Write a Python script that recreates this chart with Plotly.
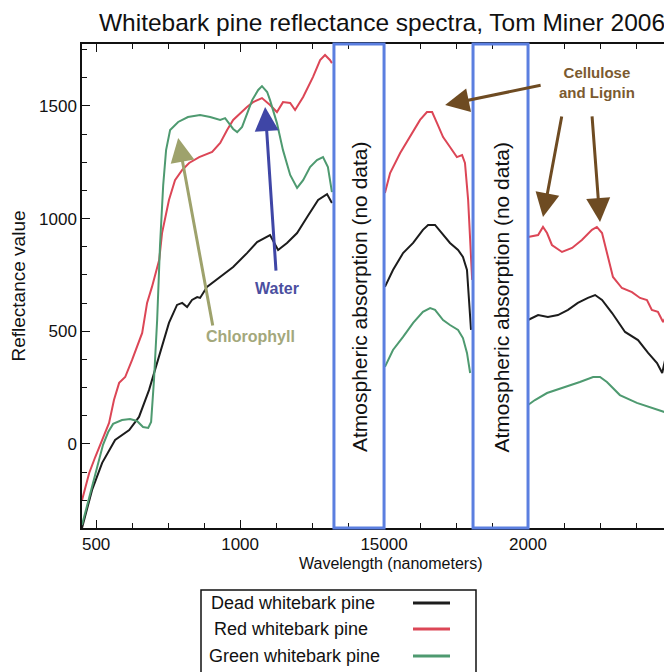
import plotly.graph_objects as go

# ---------------- data ----------------
wl_dead = [451, 486, 521, 566, 615, 649, 684, 719, 753, 781, 799, 816, 833, 851, 861, 885, 931, 976, 1024, 1059,
           1104, 1132, 1163, 1198, 1233, 1271, 1302, 1319, None,
           1503, 1531, 1566, 1601, 1635, 1653, 1677, 1701, 1729, 1757, 1774, 1788, 1795, 1802, None,
           2000, 2035, 2069, 2104, 2139, 2173, 2208, 2233, 2257, 2292, 2337, 2382, 2417, 2448, 2466, 2476, 2486, 2500]
dead = [-373, -204, -84, 18, 62, 120, 240, 386, 537, 617, 626, 608, 639, 652, 648, 697, 741, 785, 847, 896,
        927, 861, 892, 936, 1007, 1083, 1109, 1069, None,
        697, 772, 847, 892, 950, 972, 972, 936, 892, 861, 830, 772, 639, 506, None,
        550, 572, 564, 572, 595, 626, 648, 661, 639, 581, 497, 461, 404, 359, 315, 373, 319, 337]

wl_red = [451, 476, 497, 521, 545, 562, 580, 601, 625, 660, 677, 694, 719, 729, 753, 774, 799, 823, 858, 903,
          931, 955, 976, 1024, 1045, 1076, 1104, 1128, 1149, 1174, 1191, 1219, 1253, 1278, 1295, 1312, 1319, None,
          1503, 1521, 1556, 1590, 1625, 1649, 1667, 1684, 1705, 1729, 1753, 1771, 1781, 1792, 1799, 1806, None,
          2000, 2035, 2052, 2066, 2083, 2118, 2153, 2187, 2222, 2239, 2257, 2274, 2295, 2326, 2361, 2389, 2413,
          2430, 2451, 2469, 2486, 2500]
red = [-250, -129, -58, 18, 93, 195, 271, 297, 373, 493, 626, 697, 816, 936, 1083, 1171, 1216, 1247, 1273, 1296,
       1336, 1393, 1438, 1495, 1517, 1535, 1504, 1473, 1517, 1513, 1482, 1540, 1628, 1704, 1726, 1704, 1690, None,
       1114, 1202, 1291, 1362, 1438, 1473, 1473, 1424, 1362, 1318, 1273, 1282, 1247, 1083, 927, 728, None,
       918, 927, 963, 936, 883, 852, 870, 905, 950, 963, 936, 847, 741, 692, 674, 648, 639,
       595, 586, 541, 581, 559]

wl_green = [451, 490, 524, 542, 559, 590, 618, 642, 663, 681, 691, 701, 712, 722, 733, 743, 757, 785, 819, 861,
            896, 931, 948, 976, 990, 1007, 1024, 1042, 1063, 1076, 1094, 1104, 1128, 1149, 1174, 1198, 1219, 1243,
            1267, 1288, 1305, 1319, None,
            1503, 1531, 1566, 1601, 1635, 1660, 1677, 1705, 1729, 1757, 1774, 1788, 1799, None,
            2000, 2024, 2066, 2121, 2180, 2226, 2250, 2274, 2319, 2378, 2434, 2483, 2500]
green = [-360, -173, -4, 53, 89, 106, 111, 102, 75, 71, 98, 284, 550, 883, 1149, 1304, 1393, 1429, 1451, 1460,
         1451, 1438, 1446, 1398, 1384, 1407, 1469, 1526, 1571, 1588, 1562, 1526, 1424, 1304, 1194, 1136, 1171, 1229,
         1260, 1273, 1229, 1118, None,
         342, 417, 475, 537, 586, 603, 595, 550, 528, 506, 470, 404, 315, None,
         173, 195, 226, 248, 275, 297, 297, 275, 217, 182, 160, 138, 129]

x_tickvals = [500, 1000, 1500, 2000]
x_ticktext = ["500", "1000", "15000", "2000"]
y_tickvals = [0, 500, 1000, 1500]
y_ticktext = ["0", "500", "1000", "1500"]

gap_bands = [(1326, 1500), (1809, 2000)]
gap_label = "Atmospheric absorption (no data)"

series_names = ["Dead whitebark pine", "Red whitebark pine", "Green whitebark pine"]
series_colors = ["#1c1c1c", "#dc4656", "#4e9a70"]

FONT = "Liberation Sans, Arial, Helvetica, sans-serif"

fig = go.Figure()
for wl, vals, name, col in [(wl_dead, dead, series_names[0], series_colors[0]),
                            (wl_red, red, series_names[1], series_colors[1]),
                            (wl_green, green, series_names[2], series_colors[2])]:
    fig.add_trace(go.Scatter(x=wl, y=vals, mode="lines", name=name,
                             line=dict(color=col, width=2), connectgaps=False, showlegend=False))

# page body has an 8px margin: figure is 664x664 starting at (8,8) of the window
W = 664
H = 664
OFF = 8
PW = 590.0
PH = 484.0
def px_x(p):
    return (p - 82) / PW
def px_y(p):
    return (528 - p) / PH

shapes = []
annotations = []
for (a, b) in gap_bands:
    shapes.append(dict(type="rect", xref="x", yref="paper", x0=a, x1=b, y0=0, y1=1,
                       line=dict(color="#5b7fe0", width=3), fillcolor="rgba(0,0,0,0)", layer="above"))
    annotations.append(dict(x=(a + b) / 2, y=px_y(297), xref="x", yref="paper", text=gap_label, showarrow=False,
                            textangle=-90, font=dict(family=FONT, size=21, color="#111")))

# Arrow annotations
def arrow(tip, tail, color):
    return dict(x=tip[0], y=tip[1], ax=tail[0], ay=tail[1], xref="x", yref="y", axref="x", ayref="y",
                text="", showarrow=True, arrowhead=2, arrowsize=1.6, arrowwidth=3, arrowcolor=color,
                standoff=0, startstandoff=0)

chl_col = "#9ea26c"
water_col = "#3f46a6"
cell_col = "#6e4b22"
annotations += [
    arrow((785, 1358), (906, 519), chl_col),
    arrow((1087, 1495), (1125, 763), water_col),
    arrow((1712, 1504), (2049, 1593), cell_col),
    arrow((2052, 1007), (2118, 1460), cell_col),
    arrow((2250, 985), (2222, 1460), cell_col),
    dict(x=1035, y=475, xref="x", yref="y", text="<b>Chlorophyll</b>", showarrow=False,
         font=dict(family=FONT, size=16, color="#a3a87c")),
    dict(x=1127, y=690, xref="x", yref="y", text="<b>Water</b>", showarrow=False,
         font=dict(family=FONT, size=16, color="#4b4fa0")),
    dict(x=2239, y=1606, xref="x", yref="y", text="<b>Cellulose<br>and Lignin</b>", showarrow=False,
         font=dict(family=FONT, size=15, color="#7b5a30")),
    # x-axis title (offset to the right as in the reference)
    dict(x=px_x(391), y=px_y(563), xref="paper", yref="paper", text="Wavelength (nanometers)",
         showarrow=False, xanchor="center", yanchor="middle", font=dict(family=FONT, size=16, color="#111")),
]

# custom legend (text left, line sample right)
shapes.append(dict(type="rect", xref="paper", yref="paper", x0=px_x(201), x1=px_x(476), y0=px_y(700),
                   y1=px_y(590), line=dict(color="#111", width=1.5), fillcolor="white"))
rows_y = [603, 629, 656]
rows_x = [209, 212, 207]
for i in range(3):
    annotations.append(dict(x=px_x(rows_x[i]), y=px_y(rows_y[i]), xref="paper", yref="paper",
                            xanchor="left", yanchor="middle", text=series_names[i], showarrow=False,
                            font=dict(family=FONT, size=18, color="#111")))
    shapes.append(dict(type="line", xref="paper", yref="paper", x0=px_x(413), x1=px_x(450),
                       y0=px_y(rows_y[i]), y1=px_y(rows_y[i]),
                       line=dict(color=series_colors[i], width=3)))

fig.update_layout(
    width=W, height=H,
    margin=dict(l=82 - OFF, r=0, t=44 - OFF, b=H + OFF - 528, autoexpand=False),
    paper_bgcolor="white", plot_bgcolor="white",
    font=dict(family=FONT, color="#111"),
    title=dict(text="Whitebark pine reflectance spectra, Tom Miner 2006", x=px_x(382),
               xanchor="center", y=1 - (22 - OFF) / H, yanchor="middle", xref="paper",
               font=dict(family=FONT, size=24.5, color="#111")),
    shapes=shapes, annotations=annotations,
    showlegend=False,
)
fig.update_xaxes(range=[451, 2500], showgrid=False, zeroline=False, showline=True, linecolor="#111",
                 linewidth=1.5, mirror="allticks", ticks="inside", ticklen=8, tickwidth=1.2, tickcolor="#111",
                 tickvals=x_tickvals, ticktext=x_ticktext, tickfont=dict(family=FONT, size=17, color="#111"),
                 minor=dict(ticks="inside", ticklen=5, dtick=125, tick0=500, tickcolor="#111", tickwidth=1.2),
                 automargin=False)
fig.update_yaxes(range=[-373, 1775], showgrid=False, zeroline=False, showline=True, linecolor="#111",
                 linewidth=1.5, mirror="allticks", ticks="inside", ticklen=8, tickwidth=1.2, tickcolor="#111",
                 tickvals=y_tickvals, ticktext=y_ticktext, tickfont=dict(family=FONT, size=17, color="#111"),
                 minor=dict(ticks="inside", ticklen=5, dtick=125, tick0=0, tickcolor="#111", tickwidth=1.2),
                 automargin=False,
                 title=dict(text="Reflectance value", font=dict(family=FONT, size=19, color="#111"),
                            standoff=8))

fig.write_html("out.html")
